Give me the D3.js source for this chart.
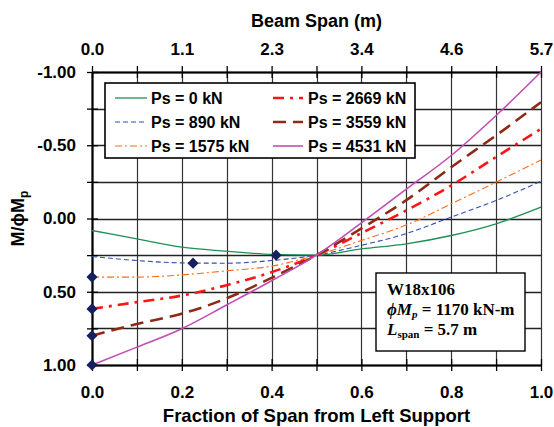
<!DOCTYPE html>
<html>
<head>
<meta charset="utf-8">
<script src="https://cdn.jsdelivr.net/npm/d3@7"></script>
<style>
  body { margin: 0; background: #fff; }
  svg text { font-family: "Liberation Sans", Arial, Helvetica, sans-serif; font-weight: bold; fill: #000; }
  .note text { font-family: "Liberation Serif", "Times New Roman", serif; }
</style>
</head>
<body>
<div id="chart"></div>
<script>
const MARGIN = { TOP: 72, LEFT: 92 }
const WIDTH = 449
const HEIGHT = 293
const SPAN_M = 5.7

// fraction of span from left support
const fractions = [0, 0.1, 0.2, 0.3, 0.4, 0.5, 0.6, 0.7, 0.8, 0.9, 1.0]

// M / phiMp for each post-tensioning force
const ps0    = [0.082, 0.139, 0.196, 0.223, 0.245, 0.250, 0.207, 0.173, 0.116, 0.036, -0.077]
const ps890  = [0.259, 0.287, 0.303, 0.305, 0.287, 0.250, 0.183, 0.103, -0.010, -0.123, -0.255]
const ps1575 = [0.400, 0.400, 0.385, 0.357, 0.325, 0.250, 0.150, 0.045, -0.100, -0.248, -0.400]
const ps2669 = [0.617, 0.571, 0.526, 0.455, 0.366, 0.250, 0.100, -0.055, -0.225, -0.420, -0.612]
const ps3559 = [0.800, 0.720, 0.650, 0.545, 0.405, 0.250, 0.068, -0.125, -0.350, -0.567, -0.794]
const ps4531 = [1.000, 0.878, 0.752, 0.590, 0.425, 0.250, 0.030, -0.200, -0.430, -0.703, -1.000]

const seriesNames = ["Ps = 0 kN", "Ps = 890 kN", "Ps = 1575 kN", "Ps = 2669 kN", "Ps = 3559 kN", "Ps = 4531 kN"]
const seriesValues = [ps0, ps890, ps1575, ps2669, ps3559, ps4531]

// maximum positive moment points
const markerX = [0, 0, 0, 0, 0.225, 0.41]
const markerY = [0.400, 0.617, 0.800, 1.000, 0.305, 0.250]

const yTicks = [-1, -0.75, -0.5, -0.25, 0, 0.25, 0.5, 0.75, 1]
const xTicks = [0, 0.1, 0.2, 0.3, 0.4, 0.5, 0.6, 0.7, 0.8, 0.9, 1.0]

const styles = [
  { color: "#1f8f55", width: 1.3, dash: null },
  { color: "#2f4fb0", width: 1.1, dash: "5,3" },
  { color: "#ff6a1a", width: 1.1, dash: "7,3,2,3" },
  { color: "#ff1515", width: 2.6, dash: "11,6,3,6" },
  { color: "#8e2a16", width: 2.6, dash: "13,7" },
  { color: "#c24db4", width: 1.6, dash: null }
]

const svg = d3.select("#chart").append("svg")
  .attr("width", 554)
  .attr("height", 427)

const g = svg.append("g")
  .attr("transform", `translate(${MARGIN.LEFT}, ${MARGIN.TOP})`)

const x = d3.scaleLinear().domain([0, 1]).range([0, WIDTH])
const y = d3.scaleLinear().domain([-1, 1]).range([0, HEIGHT])

// grid
g.append("g").selectAll("line")
  .data(xTicks)
  .enter().append("line")
  .attr("x1", d => Math.round(x(d)) + 0.5)
  .attr("x2", d => Math.round(x(d)) + 0.5)
  .attr("y1", 0).attr("y2", HEIGHT)
  .attr("stroke", "#333").attr("stroke-width", 1.2)

g.append("g").selectAll("line")
  .data(yTicks)
  .enter().append("line")
  .attr("x1", 0).attr("x2", WIDTH)
  .attr("y1", d => Math.round(y(d)) + 0.5)
  .attr("y2", d => Math.round(y(d)) + 0.5)
  .attr("stroke", "#222").attr("stroke-width", 1.4)

// axes
const leftAxis = g.append("g")
  .call(d3.axisLeft(y).tickValues(yTicks).tickSizeInner(5).tickSizeOuter(0).tickPadding(11)
    .tickFormat(d => d * 100 % 50 === 0 ? d.toFixed(2) : ""))
leftAxis.selectAll(".tick line").attr("x1", 6)

const bottomAxis = g.append("g")
  .attr("transform", `translate(0, ${HEIGHT})`)
  .call(d3.axisBottom(x).tickValues(xTicks).tickSizeInner(6).tickSizeOuter(0).tickPadding(15)
    .tickFormat((d, i) => i % 2 === 0 ? d.toFixed(1) : ""))
bottomAxis.selectAll(".tick line").attr("y1", -6)

const topAxis = g.append("g")
  .call(d3.axisTop(x).tickValues(xTicks).tickSizeInner(6).tickSizeOuter(0).tickPadding(11)
    .tickFormat((d, i) => i % 2 === 0 ? (d * SPAN_M).toFixed(1) : ""))
topAxis.selectAll(".tick line").attr("y1", 6)

for (const ax of [leftAxis, bottomAxis, topAxis]) {
  ax.select(".domain").attr("stroke", "#000").attr("stroke-width", 2.2)
  ax.selectAll(".tick line").attr("stroke", "#000").attr("stroke-width", 1.3)
  ax.selectAll("text").style("font-size", "17px")
}

// curves
const line = d3.line()
  .x((d, i) => x(fractions[i]))
  .y(d => y(d))
  .curve(d3.curveMonotoneX)

g.append("g").selectAll("path")
  .data(seriesValues)
  .enter().append("path")
  .attr("d", line)
  .attr("fill", "none")
  .attr("stroke", (d, i) => styles[i].color)
  .attr("stroke-width", (d, i) => styles[i].width)
  .attr("stroke-dasharray", (d, i) => styles[i].dash)

// diamonds
g.append("g").selectAll("path")
  .data(markerX)
  .enter().append("path")
  .attr("d", d3.symbol().type(d3.symbolSquare).size(62))
  .attr("transform", (d, i) => `translate(${x(d)}, ${y(markerY[i])}) rotate(45)`)
  .attr("fill", "#16205e")

// titles
svg.append("text")
  .attr("x", MARGIN.LEFT + WIDTH / 2).attr("y", 27)
  .attr("text-anchor", "middle")
  .style("font-size", "18px")
  .text("Beam Span (m)")

svg.append("text")
  .attr("x", MARGIN.LEFT + WIDTH / 2).attr("y", 422)
  .attr("text-anchor", "middle")
  .style("font-size", "18.5px")
  .text("Fraction of Span from Left Support")

const yTitle = svg.append("text")
  .attr("transform", `translate(24, ${MARGIN.TOP + HEIGHT / 2}) rotate(-90)`)
  .attr("text-anchor", "middle")
  .style("font-size", "18px")
yTitle.append("tspan").text("M/\u03d5M")
yTitle.append("tspan").attr("dy", 4).style("font-size", "12px").text("p")

// legend
const legend = svg.append("g").attr("transform", "translate(105, 83)")
legend.append("rect")
  .attr("width", 310).attr("height", 75)
  .attr("fill", "#fff").attr("stroke", "#000").attr("stroke-width", 1.6)

const items = legend.selectAll("g.item")
  .data(seriesNames)
  .enter().append("g")
  .attr("transform", (d, i) => `translate(${i < 3 ? 10 : 168}, ${15 + (i % 3) * 24})`)

items.append("line")
  .attr("x1", 0).attr("x2", (d, i) => i < 3 ? 32 : 30)
  .attr("stroke", (d, i) => styles[i].color)
  .attr("stroke-width", (d, i) => styles[i].width)
  .attr("stroke-dasharray", (d, i) => styles[i].dash)

items.append("text")
  .attr("x", (d, i) => i < 3 ? 36 : 35)
  .attr("dy", "0.36em")
  .style("font-size", "16px")
  .text(d => d)

// section note
const note = svg.append("g").attr("class", "note").attr("transform", "translate(376, 273)")
note.append("rect")
  .attr("width", 149).attr("height", 78)
  .attr("fill", "#fff").attr("stroke", "#000").attr("stroke-width", 1.4)

note.append("text").attr("x", 11).attr("y", 22).style("font-size", "17px").text("W18x106")

const t2 = note.append("text").attr("x", 11).attr("y", 42).style("font-size", "17px")
t2.append("tspan").style("font-style", "italic").text("\u03d5M")
t2.append("tspan").style("font-style", "italic").style("font-size", "11px").attr("dy", 3).text("p")
t2.append("tspan").attr("dy", -3).text(" = 1170 kN-m")

const t3 = note.append("text").attr("x", 11).attr("y", 62).style("font-size", "17px")
t3.append("tspan").style("font-style", "italic").text("L")
t3.append("tspan").style("font-size", "11px").attr("dy", 3).text("span")
t3.append("tspan").attr("dy", -3).text(" = 5.7 m")
</script>
</body>
</html>
